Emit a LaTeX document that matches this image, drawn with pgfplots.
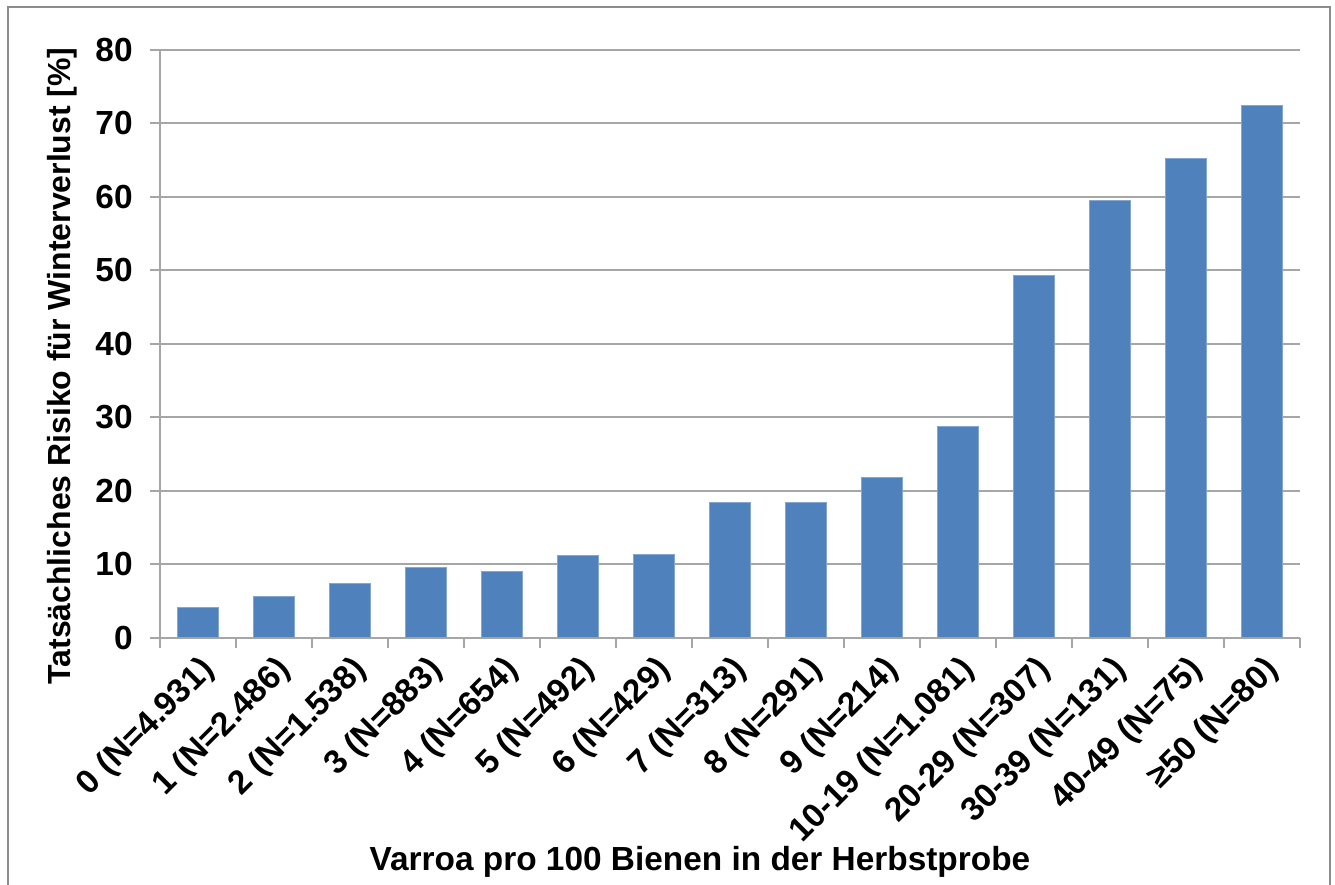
\documentclass[border=0pt]{standalone}
\usepackage{fontspec}
\setmainfont{Liberation Sans}
\usepackage{pgfplots}
\pgfplotsset{compat=1.18}
\definecolor{barblue}{HTML}{4F81BD}
\definecolor{gridgray}{HTML}{A6A6A6}
\definecolor{framegray}{HTML}{8C8C8C}

\pgfplotstableread{
x risk
0 4.2
1 5.7
2 7.4
3 9.6
4 9.0
5 11.2
6 11.4
7 18.5
8 18.5
9 21.9
10 28.8
11 49.3
12 59.5
13 65.3
14 72.5
}\risktable

\begin{document}
\begin{tikzpicture}
\begin{axis}[
    scale only axis,
    width=11.4cm, height=5.88cm,
    ybar, bar width=4.1mm,
    bar shift=0pt,
    xmin=-0.5, xmax=14.5,
    ymin=0, ymax=80,
    ytick={0,10,...,80},
    xtick={0,...,14},
    xticklabels={0 (N=4.931), 1 (N=2.486), 2 (N=1.538), 3 (N=883), 4 (N=654),
        5 (N=492), 6 (N=429), 7 (N=313), 8 (N=291), 9 (N=214),
        10-19 (N=1.081), 20-29 (N=307), 30-39 (N=131), 40-49 (N=75), ≥50 (N=80)},
    minor xtick={-0.5,0.5,...,14.5},
    major x tick style={draw=none},
    minor tick length=1mm,
    major tick length=1mm,
    tick align=outside,
    tick style={gridgray, line width=0.2mm},
    axis x line*=bottom, axis y line*=left,
    axis line style={gridgray, line width=0.2mm, -},
    ymajorgrids,
    grid style={gridgray, line width=0.2mm},
    /pgf/number format/assume math mode=true,
    ticklabel style={font=\fontsize{9.5}{11}\selectfont\bfseries},
    xticklabel style={rotate=45, anchor=north east, inner sep=1pt},
    yticklabel style={xshift=-0.5mm},
    xlabel={\fontsize{9.5}{11}\selectfont\bfseries Varroa pro 100 Bienen in der Herbstprobe},
    ylabel={\fontsize{9.1}{11}\selectfont\bfseries Tatsächliches Risiko für Winterverlust [\%]},
    every axis x label/.style={at={(rel axis cs:0.4737,-0.3810)}, anchor=center},
    every axis y label/.style={at={(rel axis cs:-0.0860,0.4626)}, anchor=center, rotate=90},
    clip=false,
]
\addplot[fill=barblue, draw=barblue!70!white, line width=0.1mm] table[x=x, y=risk] {\risktable};
\coordinate (bl) at (rel axis cs:-0.14035,-0.42007);
\coordinate (tr) at (rel axis cs:1.03070,1.08503);
\coordinate (fl) at (rel axis cs:-0.13333,-0.6);
\coordinate (ft) at (rel axis cs:1.02632,1.07313);
\end{axis}
\draw[framegray, line width=0.2mm] (fl) |- (ft) -- (ft |- fl);
\pgfresetboundingbox
\path[use as bounding box] (bl) rectangle (tr);
\end{tikzpicture}
\end{document}
